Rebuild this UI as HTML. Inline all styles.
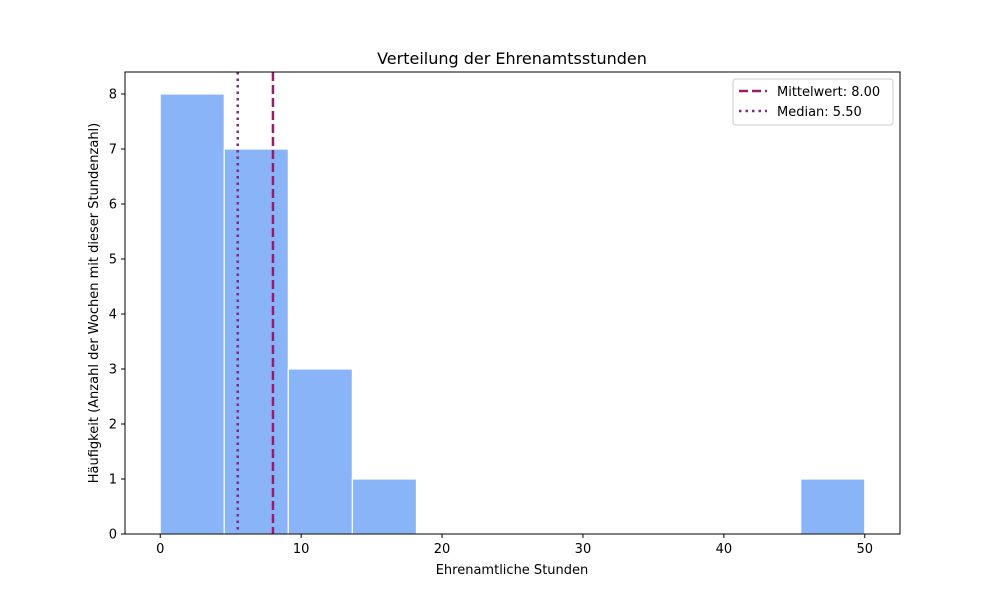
<!DOCTYPE html>
<html><head><meta charset="utf-8"><style>body{margin:0;background:#fff}svg text{font-family:"DejaVu Sans","Liberation Sans",sans-serif;fill:#000}</style></head>
<body>
<svg id="c" width="1000" height="600" xmlns="http://www.w3.org/2000/svg"></svg>
<script>
const binEdges=[0,4.545,9.091,13.636,18.182,22.727,27.273,31.818,36.364,40.909,45.455,50];
const counts=[8,7,3,1,0,0,0,0,0,0,1];
const meanVal=8.00;
const medianVal=5.50;
const xTicks=[0,10,20,30,40,50];
const yTicks=[0,1,2,3,4,5,6,7,8];
const L=125,R=900,T=72,B=534,x0=-2.5,x1=52.5,y1=8.4;
const sx=v=>L+(v-x0)/(x1-x0)*(R-L), sy=v=>B-v/y1*(B-T);
const svg=document.getElementById('c'),NS='http://www.w3.org/2000/svg';
function mk(t,a,p){const e=document.createElementNS(NS,t);for(const k in a)e.setAttribute(k,a[k]);(p||svg).appendChild(e);return e;}
counts.forEach((c,i)=>{if(!c)return;const r=mk('rect',{x:sx(binEdges[i]),y:sy(c),width:sx(binEdges[i+1])-sx(binEdges[i]),height:sy(0)-sy(c),fill:'#8ab4f8',stroke:'#fff','stroke-width':1.2});

});
const ml=mk('line',{x1:sx(meanVal),x2:sx(meanVal),y1:T,y2:B,stroke:'#9c1a6a','stroke-width':2.5,'stroke-dasharray':'9,4'});


const dl=mk('line',{x1:sx(medianVal),x2:sx(medianVal),y1:T,y2:B,stroke:'#7d2a80','stroke-width':2.5,'stroke-dasharray':'2.5,4'});


mk('rect',{x:L,y:T,width:R-L,height:B-T,fill:'none',stroke:'#000','stroke-width':1});
xTicks.forEach(v=>{mk('line',{x1:sx(v),x2:sx(v),y1:B,y2:B+4,stroke:'#000'});const t=mk('text',{x:sx(v),y:B+19,'text-anchor':'middle','font-size':13});t.textContent=v;

});
yTicks.forEach(v=>{mk('line',{x1:L-4,x2:L,y1:sy(v),y2:sy(v),stroke:'#000'});const t=mk('text',{x:L-8,y:sy(v)+4.5,'text-anchor':'end','font-size':13});t.textContent=v;

});
</script>
<svg width="1000" height="600" style="position:absolute;left:0;top:0" xmlns="http://www.w3.org/2000/svg">
<text x="512" y="64" text-anchor="middle" font-size="16">Verteilung der Ehrenamtsstunden</text>
<text x="512" y="574" text-anchor="middle" font-size="13">Ehrenamtliche Stunden</text>
<text transform="translate(98,303) rotate(-90)" text-anchor="middle" font-size="13">Häufigkeit (Anzahl der Wochen mit dieser Stundenzahl)</text>
<g>
<rect x="733" y="79" width="160" height="46" rx="3" fill="#fff" stroke="#ccc"/>
<line x1="739" x2="767" y1="91" y2="91" stroke="#9c1a6a" stroke-width="2.5" stroke-dasharray="9,4"/>
<text x="777" y="96" font-size="13">Mittelwert: 8.00</text>
<line x1="739" x2="767" y1="111" y2="111" stroke="#7d2a80" stroke-width="2.5" stroke-dasharray="2.5,4"/>
<text x="777" y="116" font-size="13">Median: 5.50</text>
</g>
</svg>
</body></html>
